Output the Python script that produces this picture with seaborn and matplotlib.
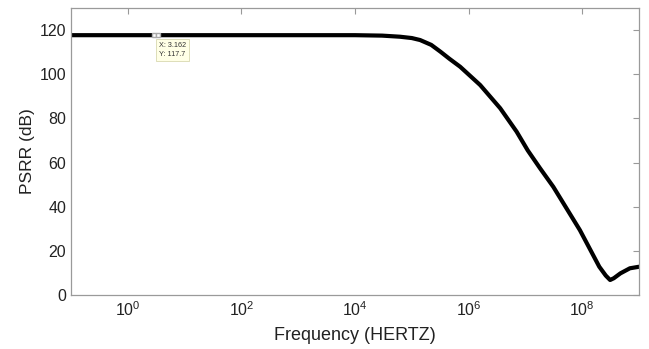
import matplotlib
matplotlib.use("Agg")
import matplotlib.pyplot as plt
import seaborn as sns
import pandas as pd
from matplotlib.ticker import NullLocator

# values
freq_hz = [0.1, 1e2, 1e4, 3e4, 6.2e4, 1e5, 1.4e5, 2.2e5, 3.2e5, 4.6e5, 7.1e5, 1.6e6,
           3.6e6, 7.0e6, 1.1e7, 1.8e7, 3.1e7, 9.1e7, 2.0e8, 2.6e8, 3.1e8, 3.6e8,
           4.7e8, 6.9e8, 1e9]
psrr_db = [117.7, 117.7, 117.7, 117.5, 117.0, 116.4, 115.5, 113.3, 110.2, 107.0, 103.4, 95.1,
           84.6, 74.0, 65.5, 57.5, 49.0, 29.4, 12.8, 8.8, 6.8, 7.6,
           9.8, 12.1, 12.8]
x_ticks = [1e0, 1e2, 1e4, 1e6, 1e8]
y_ticks = [0, 20, 40, 60, 80, 100, 120]
tip_x, tip_y = 3.162, 117.7

df = pd.DataFrame({"Frequency": freq_hz, "PSRR": psrr_db})

sns.set_style("white")
plt.rcParams['font.family'] = ['Liberation Sans', 'DejaVu Sans']

fig = plt.figure(figsize=(6.49, 3.49), dpi=100)
ax = fig.add_axes([0.1094, 0.1547, 0.8752, 0.8223])
ax.set_xscale('log')
sns.lineplot(data=df, x="Frequency", y="PSRR", ax=ax, color='black', linewidth=3.0)

ax.set_xlim(0.1, 1e9)
ax.set_ylim(0, 130)
ax.set_xticks(x_ticks)
ax.xaxis.set_minor_locator(NullLocator())
ax.set_yticks(y_ticks)

ax.set_xlabel('Frequency (HERTZ)', fontsize=13, color='#222222', labelpad=6)
ax.set_ylabel('PSRR (dB)', fontsize=12.5, color='#222222', labelpad=3)
ax.tick_params(axis='both', which='both', direction='in', length=4, width=0.8,
               top=True, right=True, colors='#999999', labelcolor='#222222', labelsize=11.5)
for s in ax.spines.values():
    s.set_color('#9a9a9a')
    s.set_linewidth(0.9)

# data tip
ax.plot([tip_x * 0.93, tip_x * 1.07], [tip_y, tip_y], marker='s', markersize=3.5,
        markerfacecolor='white', markeredgecolor='#aaaaaa', linestyle='none')
ax.annotate(f'X: {tip_x}\nY: {tip_y}', xy=(tip_x, tip_y), xytext=(2, -5),
            textcoords='offset points', ha='left', va='top', fontsize=5.2, color='#333333',
            linespacing=1.3,
            bbox=dict(boxstyle='square,pad=0.45', fc='#ffffe6', ec='#d8d8b0', lw=0.6))

fig.savefig('out.png', dpi=100)
